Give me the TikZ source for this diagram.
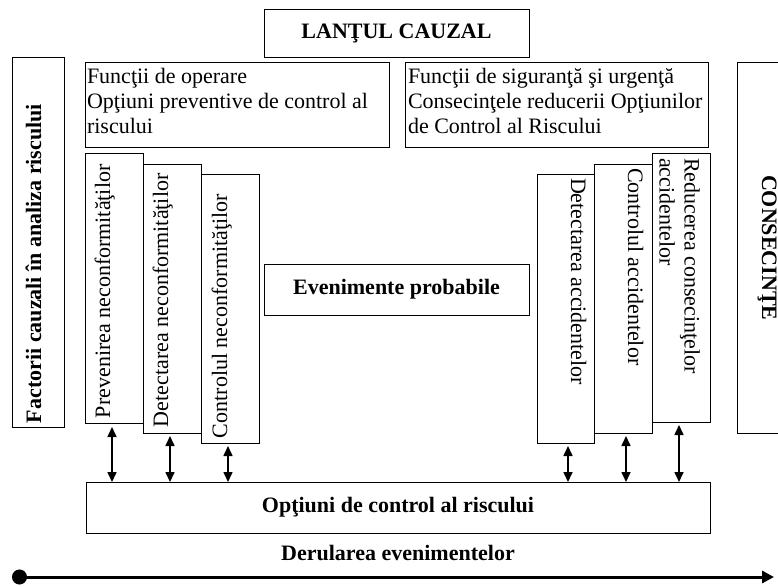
\documentclass[tikz,border=0pt]{standalone}
\usepackage{fontspec}
\setmainfont{Liberation Serif}
\usetikzlibrary{arrows.meta}
\begin{document}
\begin{tikzpicture}[x=1pt,y=1pt,
  every node/.style={font=\fontsize{22}{25}\selectfont, inner sep=0pt, outer sep=0pt},
  box/.style={draw, line width=0.9pt, rectangle},
  bold/.style={font=\fontsize{22}{25}\selectfont\bfseries},
  dbl/.style={line width=1.6pt, {Triangle[length=10pt,width=9pt]}-{Triangle[length=10pt,width=9pt]}},
  timeline/.style={line width=3pt, {Circle[length=15pt]}-{Triangle[length=12pt,width=12pt]}}
]
\useasboundingbox (0,0) rectangle (778,-586);
\clip (0,0) rectangle (778,-586);
% boxes
\node[box, minimum width=265pt, minimum height=48pt] (lant) at (396.5,-33) {};
\node[box, minimum width=52pt, minimum height=370pt] (fact) at (38,-242) {};
\node[box, minimum width=304pt, minimum height=85pt] (opL) at (237,-104.5) {};
\node[box, minimum width=303pt, minimum height=85pt] (opR) at (556.5,-104.5) {};
\node[box, minimum width=48pt, minimum height=371pt] (cons) at (761,-247.5) {};
\node[box, minimum width=58pt, minimum height=270pt] (prev) at (114,-288) {};
\node[box, minimum width=58pt, minimum height=269pt] (detN) at (172,-298.5) {};
\node[box, minimum width=58pt, minimum height=269pt] (ctrN) at (230,-308.5) {};
\node[box, minimum width=265pt, minimum height=51pt] (even) at (396.5,-289.5) {};
\node[box, minimum width=57pt, minimum height=269pt] (detA) at (565.5,-308.5) {};
\node[box, minimum width=58pt, minimum height=269pt] (ctrA) at (623,-298.5) {};
\node[box, minimum width=58pt, minimum height=269pt] (redA) at (681,-287.5) {};
\node[box, minimum width=624pt, minimum height=51pt] (opt) at (398,-507.5) {};
% texts
\node[bold] (lantT) at (lant) {LANŢUL CAUZAL};
\node[bold, rotate=90, anchor=base west] (factT) at (41,-423) {Factorii cauzali în analiza riscului};
\node[align=left, anchor=north west] (opLT) at (87,-68) {Funcţii de operare\\Opţiuni preventive de control al\\riscului};
\node[align=left, anchor=north west] (opRT) at (408,-68) {Funcţii de siguranţă şi urgenţă\\Consecinţele reducerii Opţiunilor\\de Control al Riscului};
\node[bold, rotate=-90, anchor=base west] (consT) at (762,-175) {CONSECINŢE};
\node[rotate=90, anchor=base west] (prevT) at (110,-418) {Prevenirea neconformităţilor};
\node[rotate=90, anchor=base west] (detNT) at (168,-427) {Detectarea neconformităţilor};
\node[rotate=90, anchor=base west] (ctrNT) at (227,-438) {Controlul neconformităţilor};
\node[bold] (evenT) at (even) {Evenimente probabile};
\node[rotate=-90, anchor=base west] (detAT) at (571,-178) {Detectarea accidentelor};
\node[rotate=-90, anchor=base west] (ctrAT) at (628,-168) {Controlul accidentelor};
\node[rotate=-90, anchor=north west, align=left] (redAT) at (700,-158) {Reducerea consecinţelor\\accidentelor};
\node[bold] (optT) at (opt) {Opţiuni de control al riscului};
\node[bold] (derT) at (398,-553) {Derularea evenimentelor};
% connectors
\draw[dbl] ([shift={(-2,-4)}]prev.south) -- ([shift={(-2,0)}]prev.south |- opt.north);
\draw[dbl] ([shift={(-2,-3)}]detN.south) -- ([shift={(-2,0)}]detN.south |- opt.north);
\draw[dbl] ([shift={(-2,-3)}]ctrN.south) -- ([shift={(-2,0)}]ctrN.south |- opt.north);
\draw[dbl] ([shift={(2.5,-3)}]detA.south) -- ([shift={(2.5,0)}]detA.south |- opt.north);
\draw[dbl] ([shift={(3,-3)}]ctrA.south) -- ([shift={(3,0)}]ctrA.south |- opt.north);
\draw[dbl] ([shift={(-2,-3)}]redA.south) -- ([shift={(-2,0)}]redA.south |- opt.north);
% timeline
\coordinate (tl0) at (12,-577);
\coordinate (tl1) at (774,-577);
\draw[timeline] (tl0) -- (tl1);
\end{tikzpicture}
\end{document}
